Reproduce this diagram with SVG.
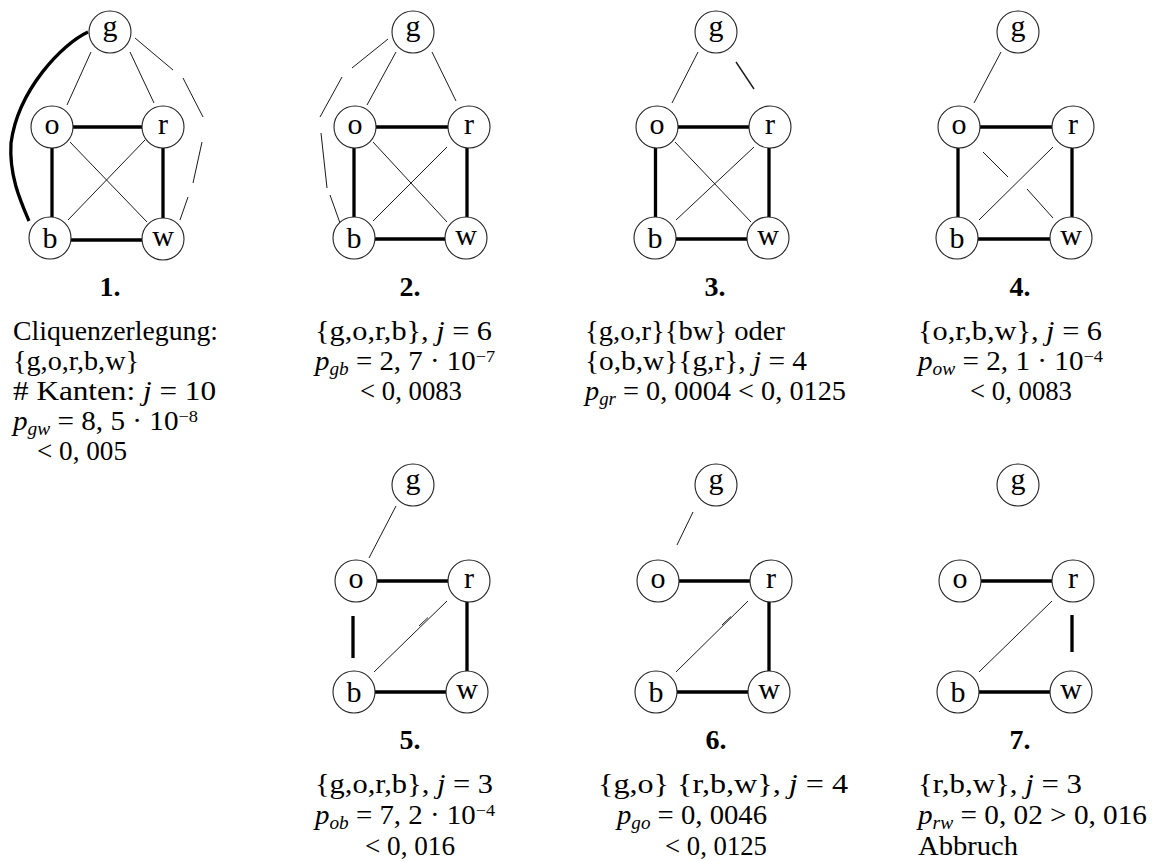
<svg xmlns="http://www.w3.org/2000/svg" width="1157" height="861" viewBox="0 0 1157 861">
<style>
  .node circle { fill: #fff; stroke: #222; stroke-width: 1.1; }
  .node text { font-family: "Liberation Serif", "DejaVu Serif", serif; font-size: 30px; text-anchor: middle; fill: #000; }
  .thin { stroke: #1a1a1a; stroke-width: 1; fill: none; }
  .thick { stroke: #000; stroke-width: 3.3; fill: none; }
  .txt { font-family: "Liberation Serif", "DejaVu Serif", serif; font-size: 27px; fill: #000; }
  .num { font-weight: bold; font-size: 28px; text-anchor: middle; }
  .i { font-style: italic; }
  .sm { font-size: 18px; }
  .sup { font-size: 17px; }
</style>

<rect width="1157" height="861" fill="#fff"/>

<!-- edges -->
<g id="connectors">
  <!-- step 1 -->
  <path class="thick" d="M88,32 C62,44 18,90 11,143 C9,175 20,200 29,221"/>
  <path class="thin" d="M91,52 L67,105 M130,52 L154,103 M70,142 L147,222 M145,140 L68,220"/>
  <path class="thin" d="M135,38 L173,70 M183,78 L203,117 M202,142 L193,183 M188,197 L180,220"/>
  <path class="thick" d="M73,127 H142 M52,148 V217 M163,148 V218 M71,240 H142"/>

  <!-- step 2 -->
  <path class="thin" d="M396,52 L367,105 M432,52 L456,101 M373,142 L447,222 M447,147 L373,221"/>
  <path class="thin" d="M388,39 L352,68 M342,77 L320,117 M321,133 L327,188 M330,195 L340,223"/>
  <path class="thick" d="M376,127 H448 M354,148 V217 M467,148 V217 M375,239 H445"/>

  <!-- step 3 -->
  <path class="thin" d="M698,52 L672,103 M675,142 L751,222 M754,147 L676,220"/>
  <path class="thin" style="stroke-width:1.4" d="M736,62 L754,89"/>
  <path class="thick" d="M678,127 H749 M655.5,148 V217 M769,148 V217 M676,239 H747"/>

  <!-- step 4 -->
  <path class="thin" d="M1001,52 L974,103 M983,152 L1008,177 M1027,189 L1053,218 M1053,147 L979,220"/>
  <path class="thick" d="M980,127 H1052 M958,148 V217 M1072,148 V217 M978,239 H1050"/>

  <!-- step 5 -->
  <path class="thin" d="M396,506 L369,558 M447,601 L374,672 M419,626 L428,617.5"/>
  <path class="thick" d="M377,581 H448 M353,616 V658 M467,602 V671 M375,692 H446"/>

  <!-- step 6 -->
  <path class="thin" d="M693,512 L677,545 M748,601 L676,672 M722,625 L731,616.5"/>
  <path class="thick" d="M679,581 H750 M769,602 V671 M677,692 H748"/>

  <!-- step 7 -->
  <path class="thin" d="M1052,601 L979,672"/>
  <path class="thick" d="M981,581 H1052 M1072,615 V652 M979,692 H1050"/>
</g>

<!-- nodes, step 1 -->
<g id="s1-g" class="node"><circle cx="110" cy="32" r="21"/><text x="110" y="36">g</text></g>
<g id="s1-o" class="node"><circle cx="52" cy="127" r="21"/><text x="52" y="134">o</text></g>
<g id="s1-r" class="node"><circle cx="163" cy="127" r="21"/><text x="163" y="134">r</text></g>
<g id="s1-b" class="node"><circle cx="50" cy="238" r="21"/><text x="50" y="248">b</text></g>
<g id="s1-w" class="node"><circle cx="163" cy="239" r="21"/><text x="163" y="246">w</text></g>

<!-- nodes, step 2 -->
<g id="s2-g" class="node"><circle cx="413" cy="32" r="21"/><text x="413" y="36">g</text></g>
<g id="s2-o" class="node"><circle cx="355" cy="127" r="21"/><text x="355" y="134">o</text></g>
<g id="s2-r" class="node"><circle cx="469" cy="127" r="21"/><text x="469" y="134">r</text></g>
<g id="s2-b" class="node"><circle cx="354" cy="238" r="21"/><text x="354" y="248">b</text></g>
<g id="s2-w" class="node"><circle cx="466" cy="238" r="21"/><text x="466" y="245">w</text></g>

<!-- nodes, step 3 -->
<g id="s3-g" class="node"><circle cx="716" cy="32" r="21"/><text x="716" y="36">g</text></g>
<g id="s3-o" class="node"><circle cx="657" cy="127" r="21"/><text x="657" y="134">o</text></g>
<g id="s3-r" class="node"><circle cx="770" cy="127" r="21"/><text x="770" y="134">r</text></g>
<g id="s3-b" class="node"><circle cx="655" cy="238" r="21"/><text x="655" y="248">b</text></g>
<g id="s3-w" class="node"><circle cx="768" cy="238" r="21"/><text x="768" y="245">w</text></g>

<!-- nodes, step 4 -->
<g id="s4-g" class="node"><circle cx="1018" cy="32" r="21"/><text x="1018" y="36">g</text></g>
<g id="s4-o" class="node"><circle cx="959" cy="127" r="21"/><text x="959" y="134">o</text></g>
<g id="s4-r" class="node"><circle cx="1073" cy="127" r="21"/><text x="1073" y="134">r</text></g>
<g id="s4-b" class="node"><circle cx="957" cy="238" r="21"/><text x="957" y="248">b</text></g>
<g id="s4-w" class="node"><circle cx="1071" cy="238" r="21"/><text x="1071" y="245">w</text></g>

<!-- nodes, step 5 -->
<g id="s5-g" class="node"><circle cx="413" cy="485" r="21"/><text x="413" y="489">g</text></g>
<g id="s5-o" class="node"><circle cx="356" cy="581" r="21"/><text x="356" y="588">o</text></g>
<g id="s5-r" class="node"><circle cx="469" cy="581" r="21"/><text x="469" y="588">r</text></g>
<g id="s5-b" class="node"><circle cx="354" cy="692" r="21"/><text x="354" y="702">b</text></g>
<g id="s5-w" class="node"><circle cx="467" cy="692" r="21"/><text x="467" y="699">w</text></g>

<!-- nodes, step 6 -->
<g id="s6-g" class="node"><circle cx="716" cy="485" r="21"/><text x="716" y="489">g</text></g>
<g id="s6-o" class="node"><circle cx="658" cy="581" r="21"/><text x="658" y="588">o</text></g>
<g id="s6-r" class="node"><circle cx="771" cy="581" r="21"/><text x="771" y="588">r</text></g>
<g id="s6-b" class="node"><circle cx="656" cy="692" r="21"/><text x="656" y="702">b</text></g>
<g id="s6-w" class="node"><circle cx="769" cy="692" r="21"/><text x="769" y="699">w</text></g>

<!-- nodes, step 7 -->
<g id="s7-g" class="node"><circle cx="1018" cy="485" r="21"/><text x="1018" y="489">g</text></g>
<g id="s7-o" class="node"><circle cx="960" cy="581" r="21"/><text x="960" y="588">o</text></g>
<g id="s7-r" class="node"><circle cx="1073" cy="581" r="21"/><text x="1073" y="588">r</text></g>
<g id="s7-b" class="node"><circle cx="958" cy="692" r="21"/><text x="958" y="702">b</text></g>
<g id="s7-w" class="node"><circle cx="1071" cy="692" r="21"/><text x="1071" y="699">w</text></g>

<!-- captions -->
<g id="captions" class="txt">
  <text class="num" x="110" y="296">1.</text>
  <text x="13" y="340" textLength="205" lengthAdjust="spacingAndGlyphs">Cliquenzerlegung:</text>
  <text x="13" y="370" textLength="126" lengthAdjust="spacingAndGlyphs">{g,o,r,b,w}</text>
  <text x="13" y="400" textLength="203" lengthAdjust="spacingAndGlyphs"># Kanten: <tspan class="i">j</tspan> = 10</text>
  <text x="13" y="430" textLength="185" lengthAdjust="spacingAndGlyphs"><tspan class="i">p</tspan><tspan class="i sm" dy="5">gw</tspan><tspan dy="-5"> = 8, 5 · 10</tspan><tspan class="sup" dy="-8">−8</tspan></text>
  <text x="37" y="460" textLength="90" lengthAdjust="spacingAndGlyphs">&lt; 0, 005</text>

  <text class="num" x="410" y="296">2.</text>
  <text x="315" y="340" textLength="177" lengthAdjust="spacingAndGlyphs">{g,o,r,b}, <tspan class="i">j</tspan> = 6</text>
  <text x="315" y="370" textLength="180" lengthAdjust="spacingAndGlyphs"><tspan class="i">p</tspan><tspan class="i sm" dy="5">gb</tspan><tspan dy="-5"> = 2, 7 · 10</tspan><tspan class="sup" dy="-8">−7</tspan></text>
  <text x="360" y="400" textLength="102" lengthAdjust="spacingAndGlyphs">&lt; 0, 0083</text>

  <text class="num" x="715" y="296">3.</text>
  <text x="585" y="340" textLength="200" lengthAdjust="spacingAndGlyphs">{g,o,r}{bw} oder</text>
  <text x="585" y="370" textLength="222" lengthAdjust="spacingAndGlyphs">{o,b,w}{g,r}, <tspan class="i">j</tspan> = 4</text>
  <text x="585" y="400" textLength="261" lengthAdjust="spacingAndGlyphs"><tspan class="i">p</tspan><tspan class="i sm" dy="5">gr</tspan><tspan dy="-5"> = 0, 0004 &lt; 0, 0125</tspan></text>

  <text class="num" x="1020" y="296">4.</text>
  <text x="918" y="340" textLength="184" lengthAdjust="spacingAndGlyphs">{o,r,b,w}, <tspan class="i">j</tspan> = 6</text>
  <text x="918" y="370" textLength="185" lengthAdjust="spacingAndGlyphs"><tspan class="i">p</tspan><tspan class="i sm" dy="5">ow</tspan><tspan dy="-5"> = 2, 1 · 10</tspan><tspan class="sup" dy="-8">−4</tspan></text>
  <text x="970" y="400" textLength="102" lengthAdjust="spacingAndGlyphs">&lt; 0, 0083</text>

  <text class="num" x="410" y="749">5.</text>
  <text x="315" y="793" textLength="178" lengthAdjust="spacingAndGlyphs">{g,o,r,b}, <tspan class="i">j</tspan> = 3</text>
  <text x="315" y="824" textLength="180" lengthAdjust="spacingAndGlyphs"><tspan class="i">p</tspan><tspan class="i sm" dy="5">ob</tspan><tspan dy="-5"> = 7, 2 · 10</tspan><tspan class="sup" dy="-8">−4</tspan></text>
  <text x="365" y="855" textLength="90" lengthAdjust="spacingAndGlyphs">&lt; 0, 016</text>

  <text class="num" x="716" y="749">6.</text>
  <text x="598" y="793" textLength="250" lengthAdjust="spacingAndGlyphs">{g,o} {r,b,w}, <tspan class="i">j</tspan> = 4</text>
  <text x="617" y="824" textLength="150" lengthAdjust="spacingAndGlyphs"><tspan class="i">p</tspan><tspan class="i sm" dy="5">go</tspan><tspan dy="-5"> = 0, 0046</tspan></text>
  <text x="665" y="855" textLength="102" lengthAdjust="spacingAndGlyphs">&lt; 0, 0125</text>

  <text class="num" x="1020" y="749">7.</text>
  <text x="918" y="793" textLength="164" lengthAdjust="spacingAndGlyphs">{r,b,w}, <tspan class="i">j</tspan> = 3</text>
  <text x="918" y="824" textLength="229" lengthAdjust="spacingAndGlyphs"><tspan class="i">p</tspan><tspan class="i sm" dy="5">rw</tspan><tspan dy="-5"> = 0, 02 &gt; 0, 016</tspan></text>
  <text x="918" y="855" textLength="100" lengthAdjust="spacingAndGlyphs">Abbruch</text>
</g>
</svg>
